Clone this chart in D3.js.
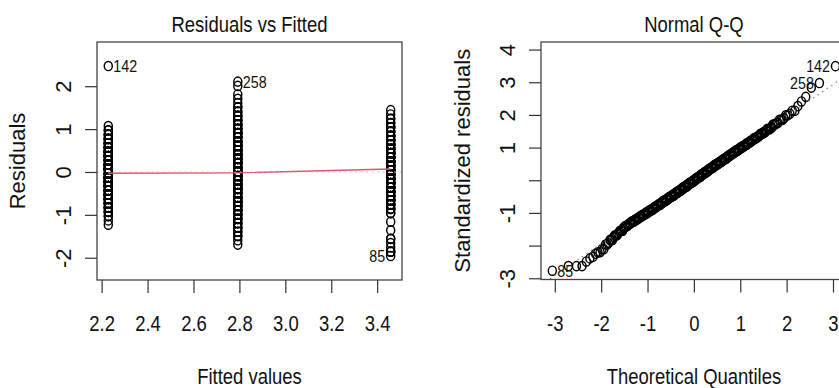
<!DOCTYPE html>
<html>
<head>
<meta charset="utf-8">
<script src="https://cdnjs.cloudflare.com/ajax/libs/d3/7.8.5/d3.min.js"></script>
<style>
  body { margin: 0; background: #fff; }
  svg { display: block; font-family: "Liberation Sans", Arial, sans-serif; }
  .frame { fill: none; stroke: #444; stroke-width: 1.3; }
  .axis line { stroke: #333; stroke-width: 1.2; }
  .axis text { fill: #111; }
  .pt { fill: none; stroke: #000; stroke-width: 1.45; }
</style>
</head>
<body>
<svg id="diag" width="839" height="388"></svg>
<script>
// three groups, responses on a 0.1 grid: one list of levels and one of counts per group
const fittedValues = [2.229, 2.793, 3.459];

const levelsA = [1.0, 1.1, 1.2, 1.3, 1.4, 1.5, 1.6, 1.7, 1.8, 1.9, 2.0, 2.1, 2.2, 2.3, 2.4, 2.5,
  2.6, 2.7, 2.8, 2.9, 3.0, 3.1, 3.2, 3.3, 4.7];
const countsA = [1, 1, 2, 3, 4, 5, 6, 7, 8, 8, 9, 9, 9, 9, 9, 8, 8, 7, 6, 5, 4, 3, 2, 1, 1];

const levelsB = [1.1, 1.2, 1.3, 1.4, 1.5, 1.6, 1.7, 1.8, 1.9, 2.0, 2.1, 2.2, 2.3, 2.4, 2.5, 2.6,
  2.7, 2.8, 2.9, 3.0, 3.1, 3.2, 3.3, 3.4, 3.5, 3.6, 3.7, 3.8, 3.9, 4.0, 4.1, 4.2, 4.3, 4.4, 4.5,
  4.6, 4.8, 4.9];
const countsB = [1, 1, 2, 2, 3, 3, 4, 4, 5, 5, 6, 6, 6, 7, 7, 7, 7, 7, 7, 7, 7, 7, 6, 6, 6, 5, 5,
  4, 4, 3, 3, 2, 2, 1, 1, 1, 1, 1];

const levelsC = [1.5, 1.6, 1.7, 1.8, 1.9, 2.1, 2.3, 2.5, 2.6, 2.7, 2.8, 2.9, 3.0, 3.1, 3.2, 3.3,
  3.4, 3.5, 3.6, 3.7, 3.8, 3.9, 4.0, 4.1, 4.2, 4.3, 4.4, 4.5, 4.6, 4.7, 4.8, 4.9];
const countsC = [1, 3, 1, 1, 2, 1, 1, 2, 4, 5, 6, 6, 7, 8, 8, 8, 9, 8, 8, 8, 8, 7, 6, 6, 5, 4, 3,
  3, 2, 2, 1, 1];

// the three observations named on the plots
const idLabels = ["142", "258", "85"];
const idGroups = [0, 1, 2];
const idResponses = [4.7, 4.9, 1.5];

// lowess of residuals at each fitted value
const smoothY = [-0.03, -0.02, 0.07];

const fittedTicks = [2.2, 2.4, 2.6, 2.8, 3.0, 3.2, 3.4];
const residTicks = [-2, -1, 0, 1, 2];
const quantileTicks = [-3, -2, -1, 0, 1, 2, 3];
const stdTicks = [-3, -2, -1, 0, 1, 2, 3, 4];
const stdTickLabels = ["-3", "", "-1", "", "1", "2", "3", "4"];

// Acklam's inverse normal cdf
function qnorm(p) {
  const a = [-3.969683028665376e+01, 2.209460984245205e+02, -2.759285104469687e+02,
    1.383577518672690e+02, -3.066479806614716e+01, 2.506628277459239e+00];
  const b = [-5.447609879822406e+01, 1.615858368580409e+02, -1.556989798598866e+02,
    6.680131188771972e+01, -1.328068155288572e+01];
  const c = [-7.784894002430293e-03, -3.223964580411365e-01, -2.400758277161838e+00,
    -2.549732539343734e+00, 4.374664141464968e+00, 2.938163982698783e+00];
  const d = [7.784695709041462e-03, 3.224671290700398e-01, 2.445134137142996e+00,
    3.754408661907416e+00];
  const lo = 0.02425;
  if (p < lo || p > 1 - lo) {
    const q = Math.sqrt(-2 * Math.log(p < lo ? p : 1 - p));
    const v = (((((c[0]*q+c[1])*q+c[2])*q+c[3])*q+c[4])*q+c[5]) / ((((d[0]*q+d[1])*q+d[2])*q+d[3])*q+1);
    return p < lo ? v : -v;
  }
  const q = p - 0.5, r = q * q;
  return (((((a[0]*r+a[1])*r+a[2])*r+a[3])*r+a[4])*r+a[5])*q / (((((b[0]*r+b[1])*r+b[2])*r+b[3])*r+b[4])*r+1);
}

function extend(ext, f) {
  f = f || 0.04;
  const w = ext[1] - ext[0];
  return [ext[0] - f * w, ext[1] + f * w];
}

// expand levels into observations
const groups = [[levelsA, countsA], [levelsB, countsB], [levelsC, countsC]];
const groupSizes = groups.map(g => d3.sum(g[1]));
const obs = [];
groups.forEach(([lv, ct], g) => {
  lv.forEach((y, i) => {
    for (let k = 0; k < ct[i]; k++) {
      obs.push({g: g, y: y, fit: fittedValues[g], r: y - fittedValues[g]});
    }
  });
});
idLabels.forEach((id, k) => {
  const o = obs.find(d => d.g === idGroups[k] && Math.abs(d.y - idResponses[k]) < 1e-9);
  if (o) o.id = id;
});

const N = obs.length;
const sigma = Math.sqrt(d3.sum(obs, d => d.r * d.r) / (N - fittedValues.length));
obs.forEach(d => { d.std = d.r / (sigma * Math.sqrt(1 - 1 / groupSizes[d.g])); });
const sorted = obs.slice().sort((a, b) => a.std - b.std);
sorted.forEach((d, i) => { d.q = qnorm((i + 0.5) / N); });

const svg = d3.select("#diag");
const SQ = 0.84;   // horizontal text squeeze

function hText(g, x, y, str, size, anchor) {
  return g.append("text")
    .attr("transform", `translate(${x},${y}) scale(${SQ},1)`)
    .attr("text-anchor", anchor || "middle")
    .attr("font-size", size)
    .attr("fill", "#111")
    .text(str);
}
function vText(g, x, y, str, size) {
  return g.append("text")
    .attr("transform", `translate(${x},${y}) rotate(-90)`)
    .attr("text-anchor", "middle")
    .attr("font-size", size)
    .attr("fill", "#111")
    .text(str);
}

function xAxis(g, scale, ticks, digits, y0) {
  const ax = g.append("g").attr("class", "axis").attr("transform", `translate(0,${y0})`)
    .call(d3.axisBottom(scale).tickValues(ticks).tickSize(13).tickFormat(d => d.toFixed(digits)));
  ax.select(".domain").remove();
  ax.selectAll("text").attr("y", 0).attr("dy", 0).attr("font-size", 22)
    .attr("font-family", "Liberation Sans, Arial, sans-serif")
    .attr("transform", `translate(0,${330.5 - y0}) scale(${SQ},1)`);
}
function yAxis(g, scale, ticks, labels, x0) {
  const ax = g.append("g").attr("class", "axis").attr("transform", `translate(${x0},0)`)
    .call(d3.axisLeft(scale).tickValues(ticks).tickSize(12).tickFormat((d, i) => labels[i]));
  ax.select(".domain").remove();
  ax.selectAll("text").attr("x", 0).attr("dy", 0).attr("font-size", 22)
    .attr("font-family", "Liberation Sans, Arial, sans-serif")
    .attr("text-anchor", "middle")
    .attr("transform", "translate(-26.5,0) rotate(-90)");
}

function idText(g, x, y, str, right) {
  hText(g, x + (right ? 5 : -5.5), y + 6, str, 17, right ? "start" : "end");
}

// ---- Residuals vs Fitted ----
const L = {x0: 97, x1: 402, y0: 42, y1: 280};
const xFit = d3.scaleLinear().domain(extend(d3.extent(fittedValues))).range([L.x0, L.x1]);
const yRes = d3.scaleLinear().domain(extend(extend(d3.extent(obs, d => d.r), 0.08))).range([L.y1, L.y0]);

const left = svg.append("g");
left.append("g").selectAll("ellipse").data(obs).join("ellipse").attr("class", "pt")
  .attr("cx", d => xFit(d.fit)).attr("cy", d => yRes(d.r)).attr("rx", 4).attr("ry", 4.6);

left.append("path")
  .attr("d", d3.line().x((d, i) => xFit(fittedValues[i])).y(d => yRes(d))(smoothY))
  .attr("fill", "none").attr("stroke", "#DF536B").attr("stroke-width", 1.4);
left.append("line").attr("x1", L.x0).attr("x2", L.x1).attr("y1", yRes(0)).attr("y2", yRes(0))
  .attr("stroke", "#bebebe").attr("stroke-width", 1.1).attr("stroke-dasharray", "1.5,4");

const idsL = obs.filter(d => d.id);
const midL = d3.mean(d3.extent(idsL, d => d.fit));
idsL.forEach(d => idText(left, xFit(d.fit), yRes(d.r), d.id, d.fit <= midL));

left.append("rect").attr("class", "frame")
  .attr("x", L.x0).attr("y", L.y0).attr("width", L.x1 - L.x0).attr("height", L.y1 - L.y0);
xAxis(left, xFit, fittedTicks, 1, L.y1);
yAxis(left, yRes, residTicks, residTicks.map(String), L.x0);
hText(left, (L.x0 + L.x1) / 2, 31.7, "Residuals vs Fitted", 22);
hText(left, (L.x0 + L.x1) / 2, 383.5, "Fitted values", 22);
vText(left, 25, (L.y0 + L.y1) / 2, "Residuals", 22);

// ---- Normal Q-Q ----
const R = {x0: 541, x1: 846.8, y0: 42, y1: 279.5};
const stdExt = d3.extent(obs, d => d.std);
stdExt[1] += 0.075 * (stdExt[1] - stdExt[0]);
const xQ = d3.scaleLinear().domain(extend(d3.extent(sorted, d => d.q))).range([R.x0, R.x1]);
const yQ = d3.scaleLinear().domain(extend(stdExt)).range([R.y1, R.y0]);

const right = svg.append("g");
right.append("clipPath").attr("id", "qqclip").append("rect")
  .attr("x", R.x0).attr("y", R.y0).attr("width", R.x1 - R.x0).attr("height", R.y1 - R.y0);

right.append("g").selectAll("ellipse").data(sorted).join("ellipse").attr("class", "pt")
  .attr("cx", d => xQ(d.q)).attr("cy", d => yQ(d.std)).attr("rx", 4).attr("ry", 4.6);

// reference line through the quartiles
const stdVals = sorted.map(d => d.std);
const qy1 = d3.quantileSorted(stdVals, 0.25), qy3 = d3.quantileSorted(stdVals, 0.75);
const qx1 = qnorm(0.25), qx3 = qnorm(0.75);
const slope = (qy3 - qy1) / (qx3 - qx1), icpt = qy1 - slope * qx1;
const xd = xQ.domain();
right.append("line").attr("clip-path", "url(#qqclip)")
  .attr("x1", xQ(xd[0])).attr("y1", yQ(icpt + slope * xd[0]))
  .attr("x2", xQ(xd[1])).attr("y2", yQ(icpt + slope * xd[1]))
  .attr("stroke", "#7f7f7f").attr("stroke-width", 1.1).attr("stroke-dasharray", "1.5,4");

const idsR = sorted.filter(d => d.id);
const midR = d3.mean(d3.extent(idsR, d => d.q));
idsR.forEach(d => idText(right, xQ(d.q), yQ(d.std), d.id, d.q <= midR));

right.append("rect").attr("class", "frame")
  .attr("x", R.x0).attr("y", R.y0).attr("width", R.x1 - R.x0).attr("height", R.y1 - R.y0);
xAxis(right, xQ, quantileTicks, 0, R.y1);
yAxis(right, yQ, stdTicks, stdTickLabels, R.x0);
hText(right, (R.x0 + R.x1) / 2, 31.7, "Normal Q-Q", 22);
hText(right, (R.x0 + R.x1) / 2, 384, "Theoretical Quantiles", 22);
vText(right, 470, (R.y0 + R.y1) / 2, "Standardized residuals", 22);
</script>
</body>
</html>
